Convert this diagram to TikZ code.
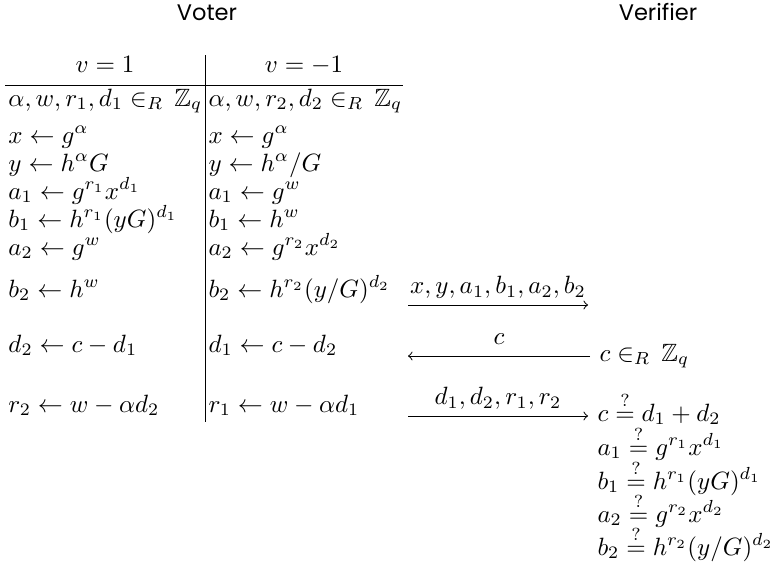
\documentclass[tikz,border=0pt]{standalone}
\usepackage{fontspec}
\usepackage{amsmath,amssymb}
\newfontfamily\partyfont{Poppins}
\begin{document}
\begin{tikzpicture}[x=0.40pt, y=-0.40pt,
    cell/.style={anchor=base west, inner sep=0pt},
    head/.style={anchor=base, inner sep=0pt},
    party/.style={anchor=base, inner sep=0pt, font=\partyfont\small},
    msg/.style={->, line width=0.4pt},
    msglabel/.style={anchor=base, inner sep=0pt, yshift=4.5pt}]
    \useasboundingbox (0,0) rectangle (773,573);

    % Parties
    \node[party] (voter) at (207,20) {Voter};
    \node[party] (verifier) at (658,20) {Verifier};

    % Table frame
    \coordinate (rulel) at (5,85);
    \coordinate (ruler) at (403,85);
    \coordinate (sept) at (205,55);
    \coordinate (sepb) at (205,422);
    \draw (rulel) -- (ruler);
    \draw (sept) -- (sepb);
    \node[head] (hpos) at (105,72) {$v = 1$};
    \node[head] (hneg) at (304,72) {$v = -1$};

    % Voter, v = 1
    \node[cell] (pchoose) at (8,106) {$\alpha, w, r_1, d_1 \in_R \, \mathbb{Z}_q$};
    \node[cell] (px) at (8,143) {$x \leftarrow g^{\alpha}$};
    \node[cell] (py) at (8,171) {$y \leftarrow h^{\alpha} G$};
    \node[cell] (pa1) at (8,199) {$a_1 \leftarrow g^{r_1} x^{d_1}$};
    \node[cell] (pb1) at (8,227) {$b_1 \leftarrow h^{r_1} (yG)^{d_1}$};
    \node[cell] (pa2) at (8,255) {$a_2 \leftarrow g^{w}$};
    \node[cell] (pb2) at (8,297) {$b_2 \leftarrow h^{w}$};
    \node[cell] (pd2) at (8,352) {$d_2 \leftarrow c - d_1$};
    \node[cell] (pr2) at (8,412) {$r_2 \leftarrow w - \alpha d_2$};

    % Voter, v = -1
    \node[cell] (nchoose) at (208,106) {$\alpha, w, r_2, d_2 \in_R \, \mathbb{Z}_q$};
    \node[cell] (nx) at (208,143) {$x \leftarrow g^{\alpha}$};
    \node[cell] (ny) at (208,171) {$y \leftarrow h^{\alpha} / G$};
    \node[cell] (na1) at (208,199) {$a_1 \leftarrow g^{w}$};
    \node[cell] (nb1) at (208,227) {$b_1 \leftarrow h^{w}$};
    \node[cell] (na2) at (208,255) {$a_2 \leftarrow g^{r_2} x^{d_2}$};
    \node[cell] (nb2) at (208,297) {$b_2 \leftarrow h^{r_2} (y/G)^{d_2}$};
    \node[cell] (nd1) at (208,352) {$d_1 \leftarrow c - d_2$};
    \node[cell] (nr1) at (208,412) {$r_1 \leftarrow w - \alpha d_1$};

    % Messages
    \coordinate (commitl) at (408,305);
    \coordinate (commitr) at (588,305);
    \coordinate (challl) at (408,356);
    \coordinate (challr) at (590,356);
    \coordinate (respl) at (408,416);
    \coordinate (respr) at (588,416);
    \draw[msg] (commitl) -- node[msglabel] {$x, y, a_1, b_1, a_2, b_2$} (commitr);
    \draw[msg] (challr) -- node[msglabel] {$c$} (challl);
    \draw[msg] (respl) -- node[msglabel] {$d_1, d_2, r_1, r_2$} (respr);

    % Verifier
    \node[cell] (vc) at (599,361) {$c \in_R \, \mathbb{Z}_q$};
    \node[cell] (vsum) at (597,421) {$c \stackrel{?}{=} d_1 + d_2$};
    \node[cell] (va1) at (597,455) {$a_1 \stackrel{?}{=} g^{r_1} x^{d_1}$};
    \node[cell] (vb1) at (597,489) {$b_1 \stackrel{?}{=} h^{r_1} (yG)^{d_1}$};
    \node[cell] (va2) at (597,522) {$a_2 \stackrel{?}{=} g^{r_2} x^{d_2}$};
    \node[cell] (vb2) at (597,555) {$b_2 \stackrel{?}{=} h^{r_2} (y/G)^{d_2}$};
\end{tikzpicture}
\end{document}
